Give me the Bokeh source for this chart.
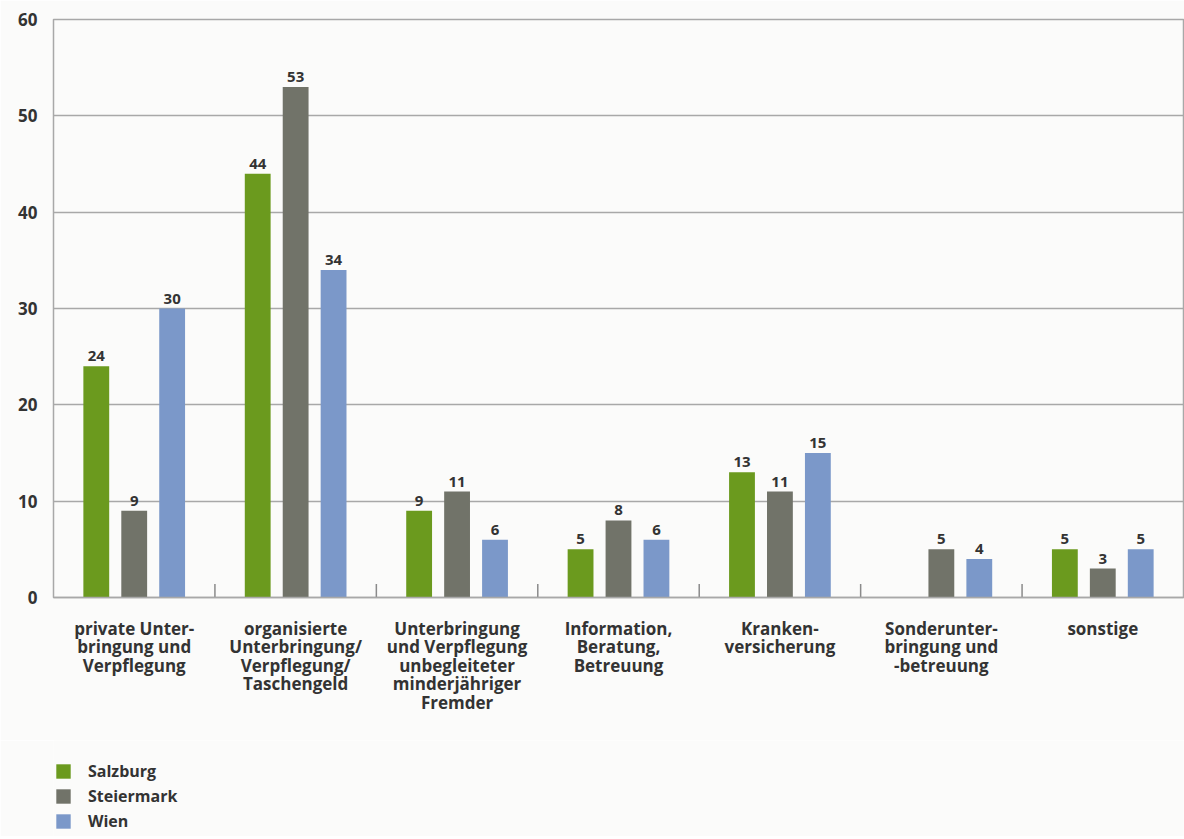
from bokeh.plotting import figure
from bokeh.models import ColumnDataSource, FactorRange, Range1d, Legend, LegendItem, FixedTicker, LabelSet
from bokeh.layouts import column
from bokeh.transform import dodge
from bokeh.core.properties import value
from bokeh.embed import file_html
from bokeh.resources import INLINE
import numpy as np

categories = [
    "private Unter-\nbringung und\nVerpflegung",
    "organisierte\nUnterbringung/\nVerpflegung/\nTaschengeld",
    "Unterbringung\nund Verpflegung\nunbegleiteter\nminderjähriger\nFremder",
    "Information,\nBeratung,\nBetreuung",
    "Kranken-\nversicherung",
    "Sonderunter-\nbringung und\n-betreuung",
    "sonstige",
]
series_names = ["Salzburg", "Steiermark", "Wien"]
salzburg = [24, 44, 9, 5, 13, np.nan, 5]
steiermark = [9, 53, 11, 8, 11, 5, 3]
wien = [30, 34, 6, 6, 15, 4, 5]
y_ticks = [0, 10, 20, 30, 40, 50, 60]

colors = ["#6b9a1e", "#717369", "#7b98c9"]
FONT = "Open Sans"
TXT = "#333333"
BG = "#fbfbfa"
GRID = "#a8a8a8"

p = figure(x_range=FactorRange(*categories, range_padding=0), y_range=Range1d(0, 60),
           width=1184, height=740, output_backend="svg", toolbar_location=None,
           min_border_left=53, min_border_right=1, min_border_top=19, min_border_bottom=143)
p.background_fill_color = BG
p.border_fill_color = BG
p.outline_line_color = GRID
p.outline_line_width = 1.5

src = ColumnDataSource(dict(cat=categories, s0=salzburg, s1=steiermark, s2=wien,
                            l0=["" if np.isnan(v) else str(int(v)) for v in salzburg],
                            l1=[str(v) for v in steiermark],
                            l2=[str(v) for v in wien]))

offsets = [-0.235, 0.0, 0.235]
for i, (off, col) in enumerate(zip(offsets, colors)):
    p.vbar(x=dodge("cat", off, range=p.x_range), top="s%d" % i, width=0.16, source=src,
           fill_color=col, line_color=None)
    lab = LabelSet(x=dodge("cat", off, range=p.x_range), y="s%d" % i, text="l%d" % i, source=src,
                   text_align="center", text_baseline="bottom", y_offset=5,
                   text_font=value(FONT), text_font_size="15px", text_font_style="bold",
                   text_color=TXT)
    p.add_layout(lab)

# category separators
sep = ColumnDataSource(dict(cat=categories[:-1]))
p.segment(x0=dodge("cat", 0.5, range=p.x_range), x1=dodge("cat", 0.5, range=p.x_range),
          y0=0, y1=1.4, source=sep, line_color="#8a8a8a", line_width=1.5)

p.xgrid.grid_line_color = None
p.ygrid.grid_line_color = GRID
p.ygrid.grid_line_width = 1.5
p.yaxis.ticker = FixedTicker(ticks=y_ticks)
p.yaxis.axis_line_color = None
p.yaxis.major_tick_line_color = None
p.yaxis.minor_tick_line_color = None
p.yaxis.major_label_text_font = FONT
p.yaxis.major_label_text_font_size = "17px"
p.yaxis.major_label_text_font_style = "bold"
p.yaxis.major_label_text_color = TXT
p.yaxis.major_label_standoff = 10

p.xaxis.axis_line_color = GRID
p.xaxis.axis_line_width = 1.5
p.xaxis.major_tick_line_color = None
p.xaxis.minor_tick_line_color = None
p.xaxis.major_label_text_font = FONT
p.xaxis.major_label_text_font_size = "17px"
p.xaxis.major_label_text_font_style = "bold"
p.xaxis.major_label_text_color = TXT
p.xaxis.major_label_standoff = 13
p.xaxis.major_label_text_line_height = 0.81

# legend in a strip below the chart
p2 = figure(x_range=Range1d(0, 1), y_range=Range1d(0, 1), width=1184, height=96,
            output_backend="svg", toolbar_location=None,
            min_border_left=53, min_border_right=1, min_border_top=0, min_border_bottom=0)
p2.background_fill_color = BG
p2.border_fill_color = BG
p2.outline_line_color = None
p2.axis.visible = False
p2.grid.visible = False
dummies = [p2.vbar(x=[0.5], top=[0], bottom=[0], width=0.0, fill_color=c, line_color=None)
           for c in colors]
legend = Legend(items=[LegendItem(label=n, renderers=[r]) for n, r in zip(series_names, dummies)],
                location=(1, 4), orientation="vertical")
legend.background_fill_alpha = 0
legend.border_line_color = None
legend.label_text_font = FONT
legend.label_text_font_size = "16px"
legend.label_text_font_style = "bold"
legend.label_text_color = TXT
legend.glyph_width = 18
legend.glyph_height = 18
legend.spacing = 3
legend.label_standoff = 16
legend.label_height = 20
legend.padding = 0
legend.margin = 0
p2.add_layout(legend, "center")

layout = column(p, p2, spacing=0)
open("out.html", "w").write(file_html(layout, INLINE))
